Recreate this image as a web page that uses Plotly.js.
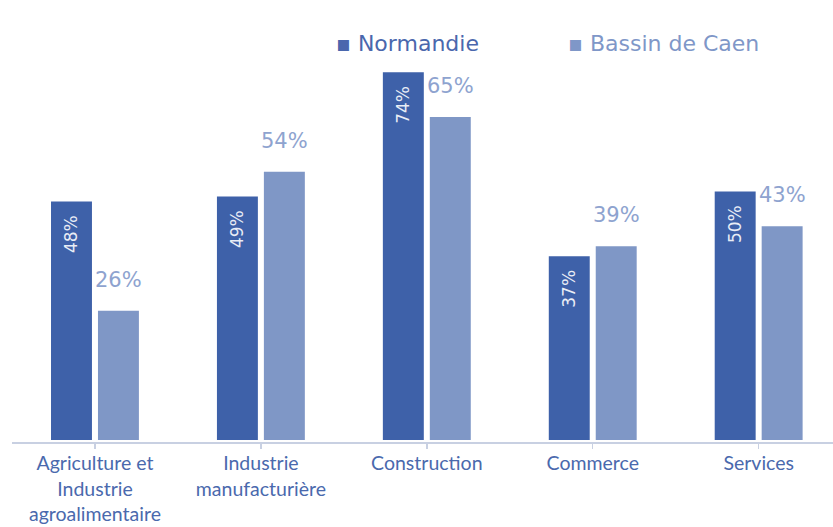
<!DOCTYPE html>
<html>
<head>
<meta charset="utf-8">
<script src="https://cdn.plot.ly/plotly-3.0.1.min.js"></script>
<style>html,body{margin:0;padding:0;background:#fff;}#chart{width:833px;height:527px;}</style>
</head>
<body>
<div id="chart"></div>
<script>
const categories = ["Agriculture et<br>Industrie<br>agroalimentaire", "Industrie<br>manufacturière", "Construction", "Commerce", "Services"];
const seriesNames = ["Normandie", "Bassin de Caen"];
const normandie = [48, 49, 74, 37, 50];
const bassinCaen = [26, 54, 65, 39, 43];

const darkBlue = "#3e61a9";
const lightBlue = "#7f97c6";
const labelLight = "#8ea3cf";
const idx = categories.map((c, i) => i);

const traces = [
  {
    type: "bar", name: seriesNames[0], x: idx, y: normandie,
    marker: {color: darkBlue},
    text: normandie.map(v => v + "%\u00a0\u00a0"),
    textposition: "inside", insidetextanchor: "end", textangle: -90,
    textfont: {family: "DejaVu Sans", size: 17, color: "#e9edf6"},
    constraintext: "none", hoverinfo: "none"
  },
  {
    type: "bar", name: seriesNames[1], x: idx, y: bassinCaen,
    marker: {color: lightBlue},
    textposition: "none", hoverinfo: "none"
  }
];

const annotations = bassinCaen.map((v, i) => ({
  x: i, y: v, xref: "x", yref: "y", text: v + "%", showarrow: false,
  xanchor: "center", yanchor: "bottom", xshift: 23.5, yshift: 17,
  font: {family: "DejaVu Sans", size: 21, color: labelLight}
}));

const plotLeft = 11.7, plotW = 833 - 11.7;
const px = p => (p - plotLeft) / plotW;
annotations.push({
  xref: "paper", yref: "paper", x: px(334), y: (442 - 44) / 412, xanchor: "left", yanchor: "middle",
  text: "\u25aa " + seriesNames[0], showarrow: false,
  font: {family: "DejaVu Sans", size: 22, color: "#4a67ad"}
});
annotations.push({
  xref: "paper", yref: "paper", x: px(566), y: (442 - 44) / 412, xanchor: "left", yanchor: "middle",
  text: "\u25aa " + seriesNames[1], showarrow: false,
  font: {family: "DejaVu Sans", size: 22, color: "#7f97c8"}
});

const layout = {
  width: 833, height: 527,
  margin: {l: 11.7, r: 0, t: 30, b: 85, pad: 0},
  paper_bgcolor: "#ffffff", plot_bgcolor: "#ffffff",
  showlegend: false,
  barmode: "group", bargap: 0.434, bargroupgap: 0.128,
  xaxis: {
    range: [-0.5, 4.448], tickmode: "array", tickvals: idx, ticktext: categories,
    tickson: "boundaries", ticks: "outside", ticklen: 5, tickwidth: 1.5, tickcolor: "#c8d0e2",
    showline: true, linecolor: "#c8d0e2", linewidth: 2, showgrid: false, zeroline: false,
    ticklabelstandoff: -2,
    tickfont: {family: "Lato", size: 19.5, color: "#4a69ad"}, fixedrange: true
  },
  yaxis: {
    range: [-0.4, 82.5], visible: false, showgrid: false, zeroline: false, fixedrange: true
  },
  annotations: annotations,
  font: {family: "DejaVu Sans"}
};

Plotly.newPlot("chart", traces, layout, {displayModeBar: false, staticPlot: true});
</script>
</body>
</html>
